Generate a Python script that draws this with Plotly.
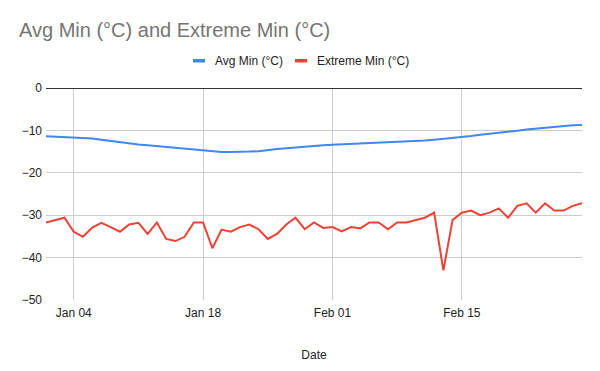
import pandas as pd
import plotly.graph_objects as go

dates = pd.date_range("2024-01-01", "2024-02-28", freq="D")

avg_min = [
    -11.4, -11.5, -11.6, -11.7, -11.8, -11.9, -12.2, -12.5, -12.8, -13.1,
    -13.3, -13.5, -13.7, -14.0, -14.1, -14.3, -14.5, -14.7, -14.9, -15.1,
    -15.1, -15.1, -15.0, -14.9, -14.6, -14.4, -14.2, -14.0, -13.8, -13.6,
    -13.5, -13.4, -13.3, -13.2, -13.1, -13.0, -13.0, -12.9, -12.8, -12.7,
    -12.5, -12.4, -12.2, -12.0, -11.8, -11.6, -11.3, -11.0, -10.8, -10.6,
    -10.3, -10.1, -9.8, -9.6, -9.4, -9.1, -8.9, -8.8, -8.7,
]

extreme_min = [
    -31.7, -31.1, -30.6, -33.9, -35.1, -32.9, -31.8, -32.8, -33.9, -32.2,
    -31.8, -34.4, -31.7, -35.6, -36.1, -35.1, -31.7, -31.7, -37.8, -33.4,
    -33.9, -32.8, -32.2, -33.3, -35.6, -34.4, -32.2, -30.6, -33.3, -31.7,
    -33.0, -32.8, -33.8, -32.8, -33.1, -31.7, -31.7, -33.3, -31.7, -31.7,
    -31.1, -30.6, -29.4, -43.0, -31.1, -29.4, -28.9, -30.0, -29.4, -28.4,
    -30.6, -27.8, -27.2, -29.4, -27.2, -28.9, -28.9, -27.8, -27.2,
]

x_ticks = ["2024-01-04", "2024-01-18", "2024-02-01", "2024-02-15"]
x_tick_labels = ["Jan 04", "Jan 18", "Feb 01", "Feb 15"]
y_ticks = [0, -10, -20, -30, -40, -50]

series_names = ["Avg Min (°C)", "Extreme Min (°C)"]
colors = ["#4285F4", "#EA4335"]

FONT = "Arial, Liberation Sans, sans-serif"
W, H = 600, 371
L, R, T, B = 46, 18, 88, 71


def px_x(px):
    return (px - L) / (W - L - R)


def px_y(py):
    return (H - B - py) / (H - T - B)


fig = go.Figure()
for name, vals, col in zip(series_names, [avg_min, extreme_min], colors):
    fig.add_trace(go.Scatter(
        x=dates, y=vals, mode="lines", name=name,
        line=dict(color=col, width=2), showlegend=False,
    ))

# manual legend (short thick swatches + labels), Google Sheets style
legend_swatch_px = [193, 295]
legend_text_px = [213, 315]
for name, col, sx, tx in zip(series_names, colors, legend_swatch_px, legend_text_px):
    fig.add_shape(type="rect", xref="paper", yref="paper",
                  x0=px_x(sx), x1=px_x(sx + 12), y0=px_y(62.5), y1=px_y(59),
                  fillcolor=col, line=dict(width=0))
    fig.add_annotation(text=name, xref="paper", yref="paper",
                       x=px_x(tx), y=px_y(61), xanchor="left", yanchor="middle",
                       showarrow=False, font=dict(size=12, color="#222222"))

fig.update_layout(
    width=W, height=H,
    margin=dict(l=L, r=R, t=T, b=B, autoexpand=False),
    paper_bgcolor="white", plot_bgcolor="white",
    showlegend=False,
    font=dict(family=FONT, size=12, color="#222222"),
    title=dict(text="Avg Min (°C) and Extreme Min (°C)",
               font=dict(family=FONT, size=20, color="#757575"),
               xref="container", yref="container",
               x=19 / W, xanchor="left", y=1 - 23 / H, yanchor="top"),
    xaxis=dict(
        range=[dates[0], dates[-1]],
        tickvals=pd.to_datetime(x_ticks), ticktext=x_tick_labels,
        showgrid=True, gridcolor="#cccccc", gridwidth=1,
        showline=False, zeroline=False, ticks="", automargin=False,
        ticklabelstandoff=4,
        tickfont=dict(size=12, color="#222222"),
        title=dict(text="Date", font=dict(size=12, color="#222222"), standoff=31),
    ),
    yaxis=dict(
        range=[-50, 0], tickvals=y_ticks,
        showgrid=True, gridcolor="#cccccc", gridwidth=1,
        zeroline=True, zerolinecolor="#333333", zerolinewidth=1,
        showline=False, ticks="", ticklabelstandoff=3, automargin=False,
        tickfont=dict(size=12, color="#222222"),
    ),
)

fig.write_html("out.html",
               config={"displayModeBar": False},
               post_script="document.body.style.margin='0';document.body.style.overflow='hidden';")
